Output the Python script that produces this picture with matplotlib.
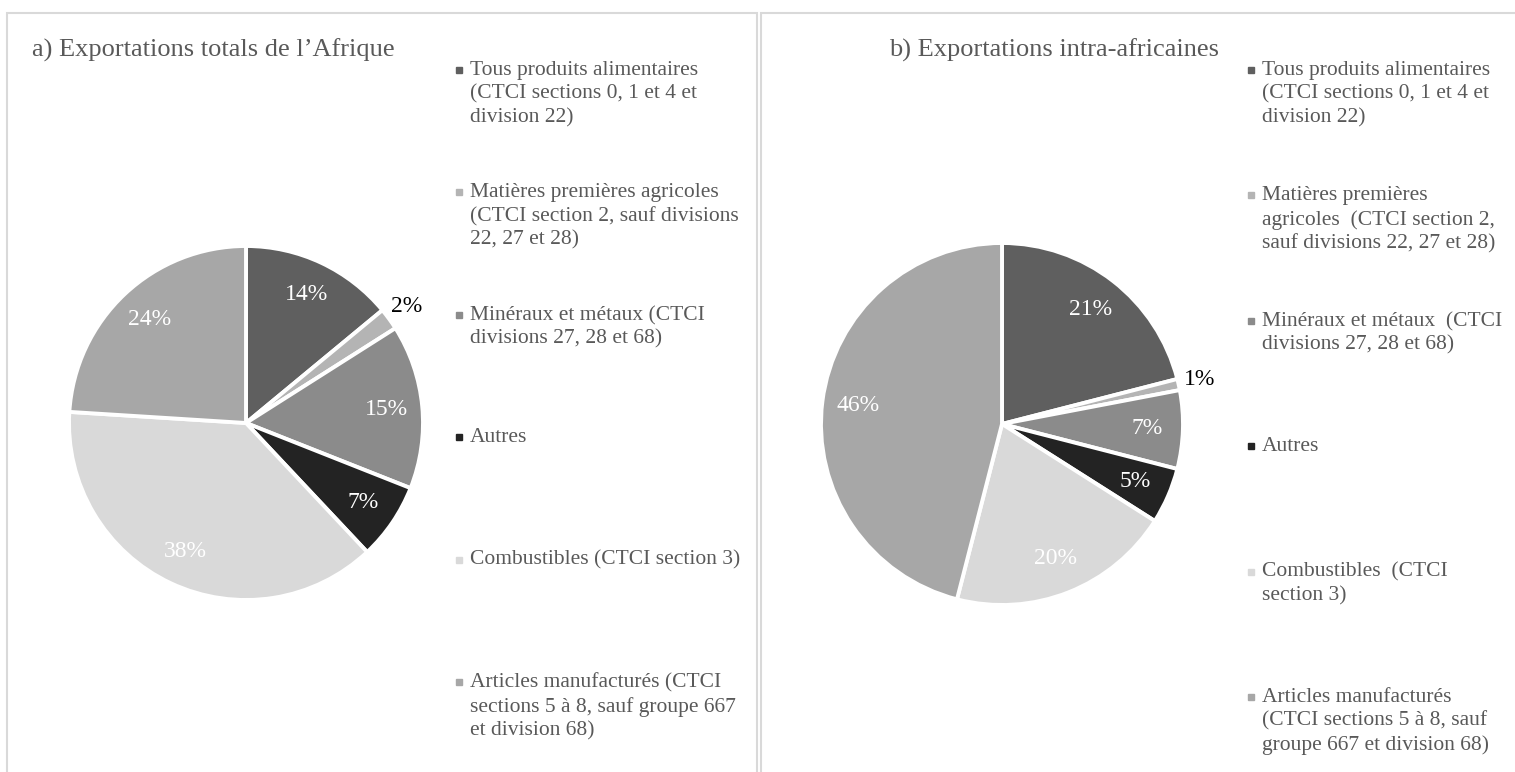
import numpy as np
import matplotlib.pyplot as plt
from matplotlib.patches import Rectangle

W, H, DPI = 1515, 772, 100

# parts (%) in the order Excel stacks them, clockwise from 12 o'clock
labels_total = [
    "Tous produits alimentaires\n(CTCI sections 0, 1 et 4 et\ndivision 22)",
    "Matières premières agricoles\n(CTCI section 2, sauf divisions\n22, 27 et 28)",
    "Minéraux et métaux (CTCI\ndivisions 27, 28 et 68)",
    "Autres",
    "Combustibles (CTCI section 3)",
    "Articles manufacturés (CTCI\nsections 5 à 8, sauf groupe 667\net division 68)",
]
labels_intra = [
    "Tous produits alimentaires\n(CTCI sections 0, 1 et 4 et\ndivision 22)",
    "Matières premières\nagricoles  (CTCI section 2,\nsauf divisions 22, 27 et 28)",
    "Minéraux et métaux  (CTCI\ndivisions 27, 28 et 68)",
    "Autres",
    "Combustibles  (CTCI\nsection 3)",
    "Articles manufacturés\n(CTCI sections 5 à 8, sauf\ngroupe 667 et division 68)",
]
values_total = [14, 2, 15, 7, 38, 24]
values_intra = [21, 1, 7, 5, 20, 46]
colors = ["#5f5f5f", "#b4b4b4", "#8b8b8b", "#232323", "#d9d9d9", "#a7a7a7"]

plt.rcParams['font.family'] = ['Liberation Serif', 'DejaVu Serif']
TXT = "#595959"

fig = plt.figure(figsize=(W / DPI, H / DPI), dpi=DPI)


def fx(x):
    return x / W


def fy(y):
    return 1 - y / H


def pie_panel(cx, cy, r, values):
    pad = 1.05
    ax = fig.add_axes([fx(cx - r * pad), fy(cy + r * pad), 2 * r * pad / W, 2 * r * pad / H])
    wedges, _, autotexts = ax.pie(values, colors=colors, startangle=90, counterclock=False,
                                  autopct='%1.0f%%', pctdistance=0.80,
                                  wedgeprops=dict(edgecolor='white', linewidth=2.8),
                                  textprops=dict(color='white', fontsize=17))
    # small slices get their label outside, in black
    for w, t, v in zip(wedges, autotexts, values):
        if v < 3:
            ang = np.deg2rad((w.theta1 + w.theta2) / 2)
            t.set_position((1.12 * np.cos(ang), 1.12 * np.sin(ang)))
            t.set_color('black')
    ax.set_xlim(-pad, pad)
    ax.set_ylim(-pad, pad)
    ax.set_aspect('equal')
    ax.axis('off')


def legend_panel(x, y0, step, labels):
    for i, lab in enumerate(labels):
        y = y0 + i * step
        fig.patches.append(Rectangle((fx(x - 3), fy(y + 3)), 6 / W, 6 / H,
                                     transform=fig.transFigure, color=colors[i]))
        fig.text(fx(x + 11), fy(y - 9), lab, va='top', ha='left', fontsize=15.5,
                 color=TXT, linespacing=1.3)


# panel frames
fig.patches.append(Rectangle((fx(7), fy(H + 5)), 750 / W, (H - 8) / H,
                             transform=fig.transFigure, fill=False, ec='#d9d9d9', lw=1.5))
fig.patches.append(Rectangle((fx(761), fy(H + 5)), 760 / W, (H - 8) / H,
                             transform=fig.transFigure, fill=False, ec='#d9d9d9', lw=1.5))

fig.text(fx(32), fy(50), "a) Exportations totals de l’Afrique", va='center', ha='left',
         fontsize=19, color=TXT)
fig.text(fx(1219), fy(50), "b) Exportations intra-africaines", va='center', ha='right',
         fontsize=19, color=TXT)

pie_panel(246, 423, 177, values_total)
pie_panel(1002, 424, 181, values_intra)

legend_panel(459, 70, 122.4, labels_total)
legend_panel(1251, 70, 125.4, labels_intra)

fig.savefig("out.png", dpi=DPI)
